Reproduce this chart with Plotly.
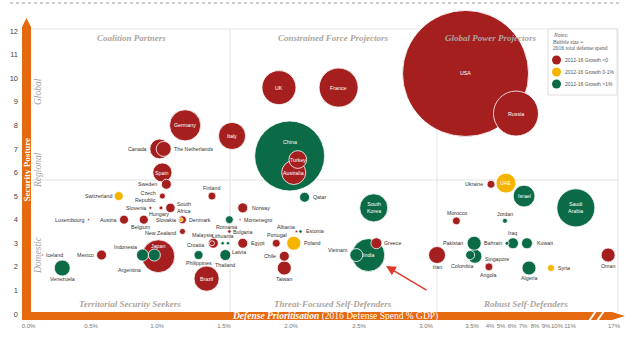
import numpy as np
import plotly.graph_objects as go

# ---------------- DATA ----------------
countries = ["USA", "China", "Russia", "France", "Saudi Arabia", "UK", "Japan", "India", "Germany",
             "South Korea", "Italy", "Brazil", "Australia", "Israel", "UAE", "Canada", "Spain", "Turkey",
             "Iran", "Venezuela", "The Netherlands", "Poland", "Taiwan", "Colombia", "Pakistan", "Algeria",
             "Oman", "Vietnam", "Indonesia", "Argentina", "Thailand", "Greece", "Iraq", "Kuwait", "Sweden",
             "Norway", "Egypt", "Chile", "Qatar", "Malaysia", "Mexico", "South Africa", "Switzerland",
             "Austria", "Belgium", "Philippines", "Singapore", "Denmark", "Finland", "Romania", "Portugal",
             "Morocco", "Ukraine", "Angola", "Syria", "New Zealand", "Czech Republic", "Jordan", "Croatia",
             "Hungary", "Slovakia", "Bahrain", "Bulgaria", "Lithuania", "Latvia", "Estonia", "Slovenia",
             "Albania", "Montenegro", "Luxembourg", "Iceland"]
defense_pct_gdp = [3.43, 1.99, 6.36, 2.35, 11.8, 1.91, 1.01, 2.57, 1.21,
                   2.61, 1.56, 1.37, 2.02, 7.09, 5.45, 1.02, 1.04, 2.05,
                   3.12, 0.27, 1.05, 2.02, 1.95, 3.58, 3.56, 7.5,
                   16.2, 2.48, 0.89, 0.98, 1.51, 2.63, 6.09, 7.33, 1.07,
                   1.64, 1.64, 1.95, 2.10, 1.42, 0.58, 1.10, 0.71,
                   0.75, 0.90, 1.31, 3.48, 1.19, 1.41, 1.54, 1.89,
                   3.33, 4.09, 3.97, 9.45, 1.19, 1.04, 5.36, 1.41,
                   1.03, 1.18, 5.55, 1.54, 1.49, 1.53, 2.07, 0.95,
                   2.04, 1.62, 0.48, 0.11]
security_posture = [10.2, 6.7, 8.5, 9.6, 4.5, 9.6, 2.45, 2.5, 8.0,
                    4.5, 7.55, 1.5, 6.0, 5.0, 5.55, 7.0, 6.0, 6.55,
                    2.5, 1.95, 7.0, 3.0, 1.95, 2.45, 3.0, 1.95,
                    2.5, 2.5, 2.5, 2.5, 2.5, 3.0, 3.0, 3.0, 5.5,
                    4.5, 3.0, 2.45, 4.95, 3.0, 2.5, 4.5, 5.0,
                    4.0, 4.0, 2.5, 2.5, 4.0, 5.0, 4.0, 3.0,
                    3.95, 5.5, 2.0, 1.95, 3.5, 5.0, 3.95, 3.0,
                    4.5, 4.0, 3.0, 3.5, 3.0, 3.0, 3.5, 4.5,
                    3.5, 4.0, 4.0, 2.5]
spend_bn = [604, 186, 77, 58, 55, 44, 41, 41, 37,
            30, 28, 24, 22, 18, 15, 15, 14, 12,
            11, 9.7, 8.6, 7.5, 7.5, 7.5, 7.5, 7.5,
            7.5, 6.4, 5.5, 5.5, 4.6, 4.6, 4.6, 4.6, 3.8,
            3.8, 3.8, 3.8, 3.8, 3.8, 3.8, 3.4, 3.1,
            3.1, 3.1, 3.1, 3.1, 2.4, 2.4, 2.4, 2.4,
            2.4, 2.4, 2.4, 1.9, 1.4, 1.4, 0.95, 0.95,
            0.6, 0.6, 0.6, 0.47, 0.47, 0.47, 0.47, 0.34,
            0.24, 0.15, 0.15, 0.15]
growth = ["neg", "high", "neg", "neg", "high", "neg", "neg", "high", "neg",
          "high", "neg", "neg", "neg", "high", "low", "neg", "neg", "neg",
          "neg", "high", "neg", "low", "neg", "high", "high", "high",
          "neg", "high", "high", "high", "high", "neg", "high", "high", "neg",
          "neg", "neg", "neg", "high", "neg", "neg", "neg", "low",
          "neg", "neg", "high", "high", "neg", "neg", "high", "neg",
          "neg", "neg", "neg", "low", "neg", "neg", "high", "neg",
          "neg", "low", "high", "neg", "high", "high", "high", "neg",
          "neg", "neg", "neg", "neg"]

x_tick_pct = [0, 0.5, 1.0, 1.5, 2.0, 2.5, 3.0, 3.5, 4, 5, 6, 7, 8, 9, 10, 11, 17]
x_tick_text = ["0.0%", "0.5%", "1.0%", "1.5%", "2.0%", "2.5%", "3.0%", "3.5%", "4%", "5%", "6%",
               "7%", "8%", "9%", "10%", "11%", "17%"]
y_ticks = list(range(0, 13))

# ---------------- STYLE / LAYOUT ----------------
# broken (piecewise) x scale positions of each tick
x_tick_pos = [28.5, 91, 157, 224, 291, 359, 426, 472, 490, 501, 512, 523, 535, 546, 557, 570, 614]
COL = {"neg": "#A51F1F", "low": "#F5B400", "high": "#0B6B47"}
ORANGE = "#E5690E"
W, H = 640, 338
ML, MR, MT, MB = 22, 14, 6, 18
PPU = 283 / 12.0  # pixels per posture unit
Y0PX = 314
yrange = [(Y0PX - (H - MB)) / PPU, (Y0PX - MT) / PPU]

def xp(px):
    return (px - ML) / (W - ML - MR)

def yp(py):
    return (H - MB - py) / (H - MT - MB)

xpos = np.interp(defense_pct_gdp, x_tick_pct, x_tick_pos)

# label placement: (anchor, dx, dy) in pixels; anchor 'in' = white text inside bubble
LBL = {
    "USA": ("in", 0, 0), "China": ("in", 0, -14), "Russia": ("in", 0, 0), "France": ("in", 0, 0),
    "Saudi Arabia": ("in", 0, 0), "UK": ("in", 0, 0), "Japan": ("in", 0, -10), "India": ("in", 1, 0),
    "Germany": ("in", 0, 0), "South Korea": ("in", 0, 0), "Italy": ("in", 0, 0), "Brazil": ("in", 0, 0),
    "Australia": ("in", 0, 0), "Israel": ("in", 0, 0), "UAE": ("in", 0, 0), "Canada": ("right", -12, 0),
    "Spain": ("in", 0, 0), "Turkey": ("in", 0, 0), "Iran": ("center", 0, 12), "Venezuela": ("center", 0, 11),
    "The Netherlands": ("left", 9, 0), "Poland": ("left", 9, 0), "Taiwan": ("center", 0, 11),
    "Colombia": ("center", -13, 10), "Pakistan": ("right", -10, 0), "Algeria": ("center", 0, 10),
    "Oman": ("center", 0, 11), "Vietnam": ("right", -7, -5), "Indonesia": ("center", -17, -8),
    "Argentina": ("center", -25, 15), "Thailand": ("center", 0, 10), "Greece": ("left", 7, 0),
    "Iraq": ("center", 0, -10), "Kuwait": ("left", 9, 0), "Sweden": ("right", -8, 0),
    "Norway": ("left", 8, 0), "Egypt": ("left", 7, 0), "Chile": ("right", -7, 0), "Qatar": ("left", 7, 0),
    "Malaysia": ("center", -11, -8), "Mexico": ("right", -7, 0), "South Africa": ("left", 6, 0),
    "Switzerland": ("right", -6, 0), "Austria": ("right", -6, 0), "Belgium": ("center", -3, 7),
    "Philippines": ("center", 0, 8), "Singapore": ("left", 14, 4), "Denmark": ("left", 6, 0),
    "Finland": ("center", 0, -8), "Romania": ("center", -3, 7), "Portugal": ("center", 1, -8),
    "Morocco": ("center", 1, -8), "Ukraine": ("right", -7, 0), "Angola": ("center", 0, 8),
    "Syria": ("left", 6, 0), "New Zealand": ("right", -5, 2), "Czech Republic": ("right", -5, 0),
    "Jordan": ("center", 0, -7), "Croatia": ("right", -7, 2), "Hungary": ("center", -2, 6),
    "Slovakia": ("right", -4, 0), "Bahrain": ("right", -4, 0), "Bulgaria": ("left", 3, 1),
    "Lithuania": ("center", 0, -7), "Latvia": ("left", 3, 9), "Estonia": ("left", 4, 0),
    "Slovenia": ("right", -3, 0), "Albania": ("center", -10, -4), "Montenegro": ("left", 3, 0),
    "Luxembourg": ("right", -3, 0), "Iceland": ("left", 3, 0),
}
BREAKS = {"Saudi Arabia": "Saudi<br>Arabia", "South Korea": "South<br>Korea",
          "South Africa": "South<br>Africa", "Czech Republic": "Czech<br>Republic"}

fig = go.Figure()
fig.add_trace(go.Scatter(
    x=xpos, y=security_posture, mode="markers",
    marker=dict(size=spend_bn, sizemode="area", sizeref=2 * max(spend_bn) / 126 ** 2,
                color=[COL[g] for g in growth], opacity=1,
                line=dict(color="white", width=0.8)),
    text=countries, hoverinfo="text", showlegend=False, cliponaxis=False,
))

annotations = []
for name, xv, yv in zip(countries, xpos, security_posture):
    anc, dx, dy = LBL[name]
    inside = anc == "in"
    annotations.append(dict(
        x=xv, y=yv, xref="x", yref="y", text=BREAKS.get(name, name), showarrow=False,
        xanchor="center" if anc in ("in", "center") else anc, yanchor="middle",
        xshift=dx, yshift=-dy, borderpad=0,
        font=dict(family="Liberation Sans, Arial", size=5.3, color="white" if inside else "#333333"),
        align="center" if anc in ("in", "center") else ("right" if anc == "right" else "left"),
    ))

def ptext(px, py, text, size, color, family="Liberation Serif", angle=0, xanchor="center"):
    annotations.append(dict(x=xp(px), y=yp(py), xref="paper", yref="paper", text=text,
                            showarrow=False, xanchor=xanchor, yanchor="middle", textangle=angle,
                            font=dict(family=family, size=size, color=color), borderpad=0))

QC = "#ADA59E"
ptext(131, 38, "<b><i>Coalition Partners</i></b>", 9, QC)
ptext(333, 38, "<b><i>Constrained Force Projectors</i></b>", 9, QC)
ptext(490, 38, "<b><i>Global Power Projectors</i></b>", 9, QC)
ptext(130, 304, "<b><i>Territorial Security Seekers</i></b>", 9, QC)
ptext(333, 304, "<b><i>Threat-Focused Self-Defenders</i></b>", 9, QC)
ptext(525, 304, "<b><i>Robust Self-Defenders</i></b>", 9, QC)
ptext(38, 92, "<i>Global</i>", 9.5, "#A0A0A0", angle=-90)
ptext(38, 170, "<i>Regional</i>", 9.5, "#A0A0A0", angle=-90)
ptext(38, 255, "<i>Domestic</i>", 9.5, "#A0A0A0", angle=-90)
ptext(26.5, 170, "<b>Security Posture</b>", 9, "white", angle=-90)
ptext(335, 316, "<b><i>Defense Prioritisation</i></b> (2016 Defense Spend % GDP)", 9.5, "white")

# legend box text
ptext(552, 35, "<i>Notes:</i>", 5.5, "#555", xanchor="left")
ptext(552, 42, "Bubble size =", 5.5, "#555", xanchor="left")
ptext(552, 48, "2016 total defense spend", 5.5, "#555", xanchor="left")
for py, lab in [(60, "2012-16 Growth &lt;0"), (72, "2012-16 Growth 0-1%"), (84, "2012-16 Growth &gt;1%")]:
    ptext(564, py, lab, 5, "#555", family="Liberation Sans", xanchor="left")

# arrow pointing to India
annotations.append(dict(x=xp(386), y=yp(266), xref="paper", yref="paper", ax=42, ay=25,
                        axref="pixel", ayref="pixel", text="", showarrow=True, arrowhead=2,
                        arrowsize=1.3, arrowwidth=1.5, arrowcolor="#E0392C"))

shapes = []
def pline(x0, y0, x1, y1, color="#E3E3E3", width=1, dash="solid", layer="below"):
    shapes.append(dict(type="line", xref="paper", yref="paper", x0=xp(x0), y0=yp(y0), x1=xp(x1), y1=yp(y1),
                       line=dict(color=color, width=width, dash=dash), layer=layer))

pline(10, 3, 622, 3, color="#9A9A9A", width=1, dash="dot")
pline(32, 29, 618, 29)
pline(32, 180, 618, 180)
pline(230, 29, 230, 312)
pline(437, 29, 437, 312)
pline(618, 29, 618, 312)

def ppath(pts, fill, layer="above"):
    d = "M " + " L ".join(f"{xp(a):.5f},{yp(b):.5f}" for a, b in pts) + " Z"
    shapes.append(dict(type="path", xref="paper", yref="paper", path=d, fillcolor=fill,
                       line=dict(width=0), layer=layer))

# orange axis bars
ppath([(22, 27), (26.5, 18), (31, 27), (31, 312), (612, 312), (625, 316), (612, 320), (22, 320)], ORANGE)
pline(589, 321, 596, 311, color="white", width=2, layer="above")
pline(597, 321, 604, 311, color="white", width=2, layer="above")

# legend box
shapes.append(dict(type="rect", xref="paper", yref="paper", x0=xp(548), y0=yp(95), x1=xp(617), y1=yp(29),
                   line=dict(color="#DDDDDD", width=1), fillcolor="white", layer="above"))
for py, c in [(60, COL["neg"]), (72, COL["low"]), (84, COL["high"])]:
    shapes.append(dict(type="circle", xref="paper", yref="paper", x0=xp(552), x1=xp(561),
                       y0=yp(py + 4.5), y1=yp(py - 4.5), fillcolor=c, line=dict(width=0), layer="above"))

fig.update_layout(
    template="none", width=W, height=H, margin=dict(l=ML, r=MR, t=MT, b=MB, pad=0),
    paper_bgcolor="white", plot_bgcolor="white", showlegend=False,
    font=dict(family="Liberation Sans, Arial", color="#444"),
    xaxis=dict(range=[ML, W - MR], tickvals=x_tick_pos, ticktext=x_tick_text, showgrid=False,
               zeroline=False, showline=False, ticks="", automargin=False, tickangle=0,
               tickfont=dict(size=6, color="#777"), ticklabelstandoff=1),
    yaxis=dict(range=yrange, tickvals=y_ticks, showgrid=False, zeroline=False, showline=False,
               ticks="", automargin=False, tickfont=dict(size=7.5, color="#444"), ticklabelstandoff=3),
    annotations=annotations, shapes=shapes,
)
fig.write_html("out.html")
